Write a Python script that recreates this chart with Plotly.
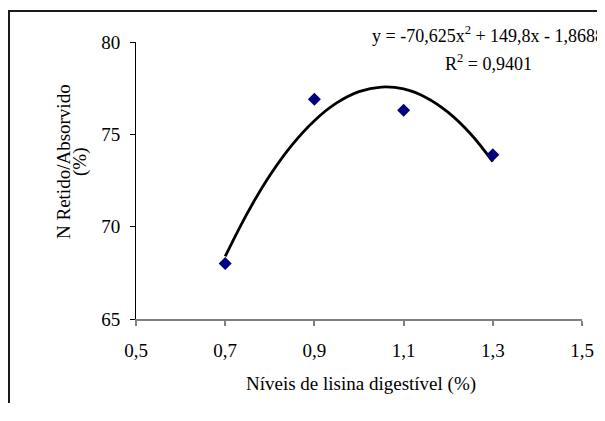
import plotly.graph_objects as go

# Observed data points
lysine_levels = [0.7, 0.9, 1.1, 1.3]
n_retained = [68.0, 76.9, 76.3, 73.9]

# Trendline points
trend_x = [0.70, 0.75, 0.80, 0.85, 0.90, 0.95, 1.00, 1.05, 1.10, 1.15, 1.20, 1.25, 1.30]
trend_y = [68.39, 70.75, 72.77, 74.43, 75.74, 76.70, 77.31, 77.56, 77.46, 77.00, 76.19, 75.03, 73.52]

x_ticks = [0.5, 0.7, 0.9, 1.1, 1.3, 1.5]
x_tick_labels = ["0,5", "0,7", "0,9", "1,1", "1,3", "1,5"]
y_ticks = [65, 70, 75, 80]

FONT = "Liberation Serif, Times New Roman, serif"

fig = go.Figure()
fig.add_trace(go.Scatter(
    x=trend_x, y=trend_y, mode="lines",
    line=dict(color="black", width=2.8, shape="spline"),
    showlegend=False, hoverinfo="skip",
))
fig.add_trace(go.Scatter(
    x=lysine_levels, y=n_retained, mode="markers",
    marker=dict(symbol="diamond", size=10, color="#000080"),
    showlegend=False,
))

# page has an 8px body margin; work in page pixel coords and convert
OFF = 8
W, H = 605 - 2 * OFF, 395
PL, PR, PT, PB = 136, 582, 42, 319  # plot area in page pixels
L, T = PL - OFF, PT - OFF
R = W - (PR - OFF)
B = H - (PB - OFF)
pw, ph = PR - PL, PB - PT

def px(xp):
    return (xp - PL) / pw

def py(yp):
    return 1 - (yp - PT) / ph

frame = dict(color="#1a1a1a", width=2)

fig.update_layout(
    width=W, height=H, autosize=False,
    margin=dict(l=L, r=R, t=T, b=B, autoexpand=False),
    paper_bgcolor="white", plot_bgcolor="white",
    font=dict(family=FONT, size=19, color="black"),
    xaxis=dict(
        range=[0.5, 1.5], tickvals=x_ticks, ticktext=x_tick_labels,
        showgrid=False, zeroline=False, automargin=False,
        showline=True, linecolor="#808080", linewidth=1.5,
        ticks="outside", ticklen=5, tickcolor="#808080", tickwidth=1.5,
        ticklabelstandoff=8,
        tickfont=dict(family=FONT, size=19, color="black"),
    ),
    yaxis=dict(
        range=[65, 80], tickvals=y_ticks,
        showgrid=False, zeroline=False, automargin=False,
        showline=True, linecolor="black", linewidth=1,
        ticks="outside", ticklen=5, tickcolor="black", tickwidth=1,
        ticklabelstandoff=6,
        tickfont=dict(family=FONT, size=19, color="black"),
    ),
    annotations=[
        dict(text="Níveis de lisina digestível (%)", xref="paper", yref="paper",
             x=px(361), y=py(384), xanchor="center", yanchor="middle",
             showarrow=False, font=dict(family=FONT, size=19)),
        dict(text="N Retido/Absorvido", xref="paper", yref="paper",
             x=px(63), y=py(162), xanchor="center", yanchor="middle",
             textangle=-90, showarrow=False, font=dict(family=FONT, size=19)),
        dict(text="(%)", xref="paper", yref="paper",
             x=px(80), y=py(162), xanchor="center", yanchor="middle",
             textangle=-90, showarrow=False, font=dict(family=FONT, size=19)),
        dict(text="y = -70,625x<sup>2</sup> + 149,8x - 1,8688", xref="paper", yref="paper",
             x=px(370), y=py(34), xanchor="left", yanchor="middle",
             showarrow=False, font=dict(family=FONT, size=18)),
        dict(text="R<sup>2</sup> = 0,9401", xref="paper", yref="paper",
             x=px(443), y=py(62), xanchor="left", yanchor="middle",
             showarrow=False, font=dict(family=FONT, size=18)),
    ],
    shapes=[
        dict(type="line", xref="paper", yref="paper",
             x0=px(9), x1=px(9), y0=py(10), y1=py(440), line=frame, layer="below"),
        dict(type="line", xref="paper", yref="paper",
             x0=px(8), x1=px(640), y0=py(11), y1=py(11), line=frame, layer="below"),
    ],
)

fig.write_html("out.html")
